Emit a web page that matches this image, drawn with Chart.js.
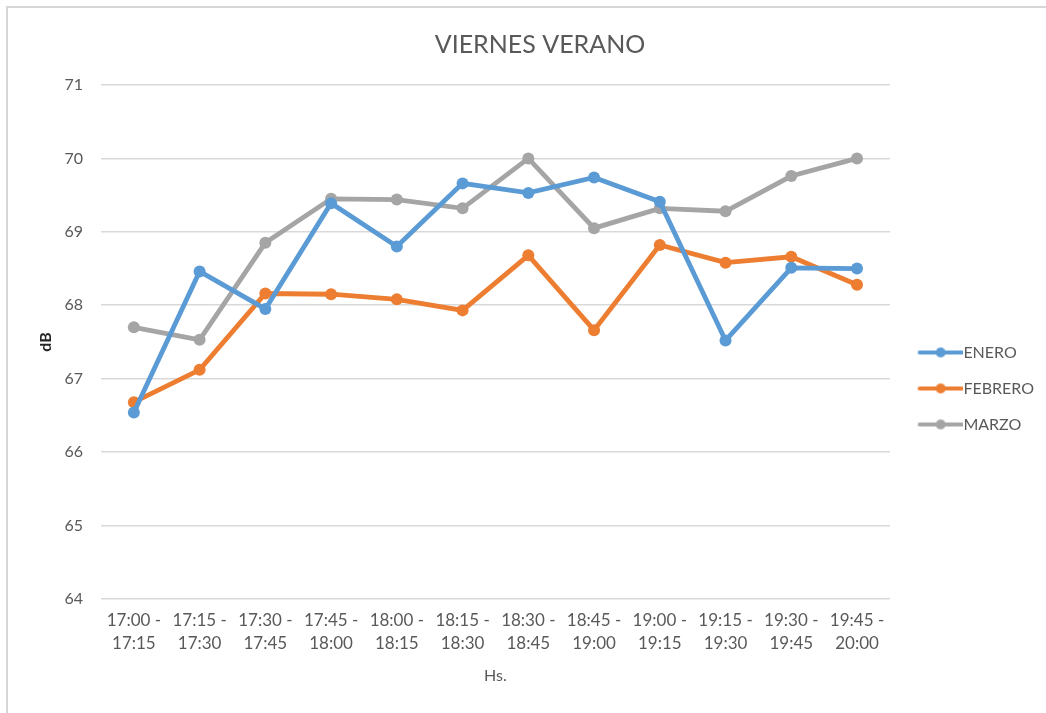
<!DOCTYPE html>
<html>
<head>
<meta charset="utf-8">
<title>VIERNES VERANO</title>
<script src="https://cdn.jsdelivr.net/npm/chart.js@4"></script>
<style>
    html, body { margin: 0; padding: 0; background: #fff; }
    #wrap { position: relative; width: 1046px; height: 713px; overflow: hidden; }
    #frame { position: absolute; left: 6px; top: 6px; width: 1100px; height: 800px;
             border-top: 2px solid #d6d6d6; border-left: 2px solid #d6d6d6; pointer-events: none; }
</style>
</head>
<body>
<div id="wrap">
    <canvas id="veranoChart"></canvas>
    <div id="frame"></div>
</div>
<script>
const categories = [
    '17:00 - 17:15', '17:15 - 17:30', '17:30 - 17:45', '17:45 - 18:00',
    '18:00 - 18:15', '18:15 - 18:30', '18:30 - 18:45', '18:45 - 19:00',
    '19:00 - 19:15', '19:15 - 19:30', '19:30 - 19:45', '19:45 - 20:00'
];
const enero = [66.54, 68.46, 67.95, 69.39, 68.80, 69.66, 69.53, 69.74, 69.41, 67.52, 68.51, 68.50];
const febrero = [66.68, 67.12, 68.16, 68.15, 68.08, 67.93, 68.68, 67.66, 68.82, 68.58, 68.66, 68.28];
const marzo = [67.70, 67.53, 68.85, 69.45, 69.44, 69.32, 70.00, 69.05, 69.32, 69.28, 69.76, 70.00];
const yMin = 64;
const yMax = 71;

document.addEventListener('DOMContentLoaded', function () {
    const canvas = document.getElementById('veranoChart');
    const ctx = canvas.getContext('2d');

    const series = [
        { label: 'ENERO', data: enero, color: '#5b9bd5' },
        { label: 'FEBRERO', data: febrero, color: '#ed7d31' },
        { label: 'MARZO', data: marzo, color: '#a5a5a5' }
    ];

    // legend marker: line with a dot in the middle, like the spreadsheet one
    // (canvas is wider than the box so the line nearly touches the text)
    function legendMarker(color) {
        const c = document.createElement('canvas');
        c.width = 60;
        c.height = 12;
        const g = c.getContext('2d');
        g.strokeStyle = color;
        g.lineWidth = 4;
        g.lineCap = 'round';
        g.beginPath();
        g.moveTo(17, 6);
        g.lineTo(59, 6);
        g.stroke();
        g.fillStyle = color;
        g.beginPath();
        g.arc(38, 6, 5, 0, Math.PI * 2);
        g.fill();
        return c;
    }

    const datasets = series.map(s => ({
        label: s.label,
        data: s.data,
        borderColor: s.color,
        backgroundColor: s.color,
        borderWidth: 4.8,
        pointRadius: 6,
        pointHoverRadius: 6,
        pointBackgroundColor: s.color,
        pointBorderWidth: 0,
        tension: 0,
        marker: legendMarker(s.color)
    }));

    const grey = '#595959';

    const config = {
        type: 'line',
        data: {
            labels: categories,
            datasets: datasets
        },
        options: {
            responsive: true,
            maintainAspectRatio: false,
            animation: false,
            layout: {
                padding: { left: 36, right: 2, top: 8, bottom: 28 }
            },
            scales: {
                x: {
                    offset: true,
                    border: { display: false },
                    grid: { display: false, drawTicks: false },
                    ticks: {
                        color: grey,
                        padding: 10,
                        maxRotation: 0,
                        autoSkip: false,
                        font: { family: 'Lato', size: 17, lineHeight: 1.35 },
                        callback: function (value) {
                            const parts = this.getLabelForValue(value).split(' - ');
                            return [parts[0] + ' -', parts[1]];
                        }
                    },
                    title: {
                        display: true,
                        text: 'Hs.',
                        color: grey,
                        padding: { top: 1, bottom: 0 },
                        font: { family: 'Lato', size: 16 }
                    }
                },
                y: {
                    min: yMin,
                    max: yMax,
                    border: { display: false },
                    grid: { color: '#d9d9d9', lineWidth: 1.5, drawTicks: false },
                    ticks: {
                        stepSize: 1,
                        color: grey,
                        padding: 18,
                        font: { family: 'Lato', size: 16 }
                    },
                    title: {
                        display: true,
                        text: 'dB',
                        color: '#262626',
                        padding: 0,
                        font: { family: 'Lato', size: 16, weight: 'bold' }
                    },
                    afterFit: function (scale) {
                        scale.width = 65;
                    }
                }
            },
            plugins: {
                title: {
                    display: true,
                    text: 'VIERNES VERANO',
                    color: grey,
                    padding: { top: 22, bottom: 25 },
                    font: { family: 'Lato', size: 25, weight: 'normal' }
                },
                legend: {
                    position: 'right',
                    title: {
                        // empty title only pushes the entries down
                        display: true,
                        text: '',
                        padding: { top: 72, bottom: 0 },
                        font: { size: 10 }
                    },
                    labels: {
                        color: grey,
                        usePointStyle: true,
                        pointStyleWidth: 45.5,
                        boxHeight: 12,
                        padding: 20,
                        font: { family: 'Lato', size: 16 },
                        generateLabels: function (chart) {
                            const items = Chart.defaults.plugins.legend.labels.generateLabels(chart);
                            items.forEach(item => {
                                item.pointStyle = chart.data.datasets[item.datasetIndex].marker;
                            });
                            return items;
                        }
                    }
                },
                tooltip: { enabled: false }
            }
        }
    };

    new Chart(ctx, config);
});
</script>
</body>
</html>
